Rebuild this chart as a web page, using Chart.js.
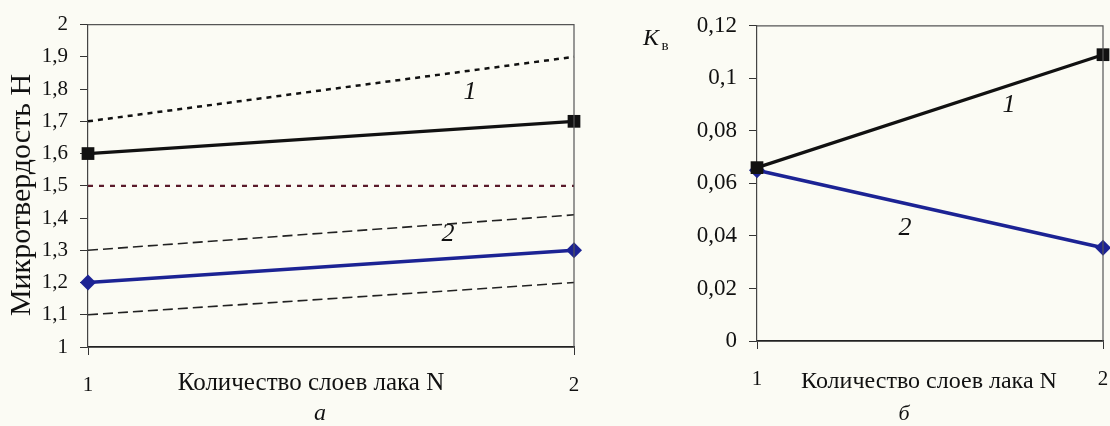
<!DOCTYPE html>
<html>
<head>
<meta charset="utf-8">
<script src="https://cdn.jsdelivr.net/npm/chart.js@4.4.1/dist/chart.umd.min.js"></script>
<style>
body { margin: 0; background: #fbfbf4; }
#wrap { position: relative; width: 1110px; height: 426px; overflow: hidden; }
.panel { position: absolute; top: 0; height: 426px; }
</style>
</head>
<body>
<div id="wrap">
  <div class="panel" style="left:0;width:620px"><canvas id="chartA" width="620" height="426"></canvas></div>
  <div class="panel" style="left:620px;width:520px"><canvas id="chartB" width="520" height="426"></canvas></div>
</div>
<script>
// number of lacquer layers
var layers = [1, 2];

// panel a: microhardness H
var hardTop = [1.7, 1.9];
var hard1 = [1.6, 1.7];
var hardRef = [1.5, 1.5];
var hardUp2 = [1.3, 1.41];
var hard2 = [1.2, 1.3];
var hardLow2 = [1.1, 1.2];
var ticksA = [1, 1.1, 1.2, 1.3, 1.4, 1.5, 1.6, 1.7, 1.8, 1.9, 2];

// panel b: coefficient Kв
var kv1 = [0.066, 0.109];
var kv2 = [0.065, 0.0355];
var ticksB = [0, 0.02, 0.04, 0.06, 0.08, 0.1, 0.12];

var SERIF = '"Liberation Serif", "Times New Roman", serif';
var xTitle = 'Количество слоев лака N';

function pts(arr) {
  return layers.map(function(n, i) { return { x: n, y: arr[i] }; });
}

function commaLabel(v) {
  return String(+(+v).toFixed(3)).replace('.', ',');
}

function line(arr, color, width, dash, marker, mSize) {
  return {
    data: pts(arr),
    borderColor: color,
    backgroundColor: color,
    borderWidth: width,
    borderDash: dash || [],
    pointStyle: marker || 'circle',
    pointRadius: marker ? mSize : 0,
    pointBorderWidth: 0,
    clip: false
  };
}

// draws the frame and the free text of one panel
function extrasPlugin(texts) {
  return {
    id: 'extras',
    afterDraw: function(chart) {
      var ctx = chart.ctx;
      var a = chart.chartArea;
      ctx.save();
      ctx.strokeStyle = '#555';
      ctx.lineWidth = 1.2;
      ctx.beginPath();
      ctx.moveTo(a.left, a.top);
      ctx.lineTo(a.right, a.top);
      ctx.lineTo(a.right, a.bottom);
      ctx.stroke();
      ctx.fillStyle = '#111';
      ctx.textAlign = 'center';
      ctx.textBaseline = 'middle';
      texts.forEach(function(t) {
        ctx.save();
        ctx.font = t.font;
        ctx.translate(t.x, t.y);
        if (t.rot) ctx.rotate(t.rot);
        ctx.fillText(t.text, 0, 0);
        ctx.restore();
      });
      ctx.restore();
    }
  };
}

function makeChart(id, datasets, yTicks, yw, pad, tickFont, texts) {
  var ctx = document.getElementById(id).getContext('2d');
  return new Chart(ctx, {
    type: 'line',
    data: { datasets: datasets },
    options: {
      responsive: false,
      animation: false,
      devicePixelRatio: 1,
      layout: { padding: pad },
      plugins: { legend: { display: false }, tooltip: { enabled: false } },
      scales: {
        x: {
          type: 'linear',
          min: layers[0],
          max: layers[layers.length - 1],
          afterBuildTicks: function(s) { s.ticks = layers.map(function(v) { return { value: v }; }); },
          afterFit: function(s) { s.height = 426 - pad.top - pad.plotH; },
          border: { color: '#222', width: 1.8 },
          grid: { drawOnChartArea: false, color: '#333', tickLength: 8 },
          ticks: { font: { family: SERIF, size: pad.xFont }, color: '#111', padding: 18, maxRotation: 0 }
        },
        y: {
          min: yTicks[0],
          max: yTicks[yTicks.length - 1],
          afterBuildTicks: function(s) { s.ticks = yTicks.map(function(v) { return { value: v }; }); },
          afterFit: function(s) { s.width = yw; },
          border: { color: '#444', width: 1.2 },
          grid: { drawOnChartArea: false, color: '#333', tickLength: 8 },
          ticks: { font: { family: SERIF, size: tickFont }, color: '#111', padding: 12, callback: commaLabel }
        }
      }
    },
    plugins: [extrasPlugin(texts)]
  });
}

var blue = '#1c2394';

makeChart('chartA', [
  line(hardTop, '#111', 2.5, [5, 5]),
  line(hardRef, '#5a1a2a', 2.2, [5, 6]),
  line(hardUp2, '#222', 1.6, [10, 5]),
  line(hardLow2, '#222', 1.6, [10, 5]),
  line(hard1, '#111', 3.2, null, 'rect', 9),
  line(hard2, blue, 3.5, null, 'rectRot', 8)
], ticksA, 88, { top: 17, right: 46, left: 0, bottom: 0, plotH: 330, xFont: 21 }, 21, [
  { text: 'Микротвердость H', x: 22, y: 195, rot: -Math.PI / 2, font: '30px ' + SERIF },
  { text: xTitle, x: 311, y: 383, font: '25px ' + SERIF },
  { text: 'а', x: 320, y: 414, font: 'italic 24px ' + SERIF },
  { text: '1', x: 470, y: 92, font: 'italic 26px ' + SERIF },
  { text: '2', x: 448, y: 234, font: 'italic 26px ' + SERIF }
]);

makeChart('chartB', [
  line(kv1, '#111', 3.2, null, 'rect', 9),
  line(kv2, blue, 3.5, null, 'rectRot', 8)
], ticksB, 137, { top: 23, right: 37, left: 0, bottom: 0, plotH: 318, xFont: 21 }, 23, [
  { text: 'K', x: 31, y: 39, font: 'italic 24px ' + SERIF },
  { text: 'в', x: 45, y: 46, font: '15px ' + SERIF },
  { text: xTitle, x: 309, y: 382, font: '24px ' + SERIF },
  { text: 'б', x: 284, y: 414, font: 'italic 22px ' + SERIF },
  { text: '1', x: 389, y: 105, font: 'italic 26px ' + SERIF },
  { text: '2', x: 285, y: 228, font: 'italic 26px ' + SERIF }
]);
</script>
</body>
</html>
